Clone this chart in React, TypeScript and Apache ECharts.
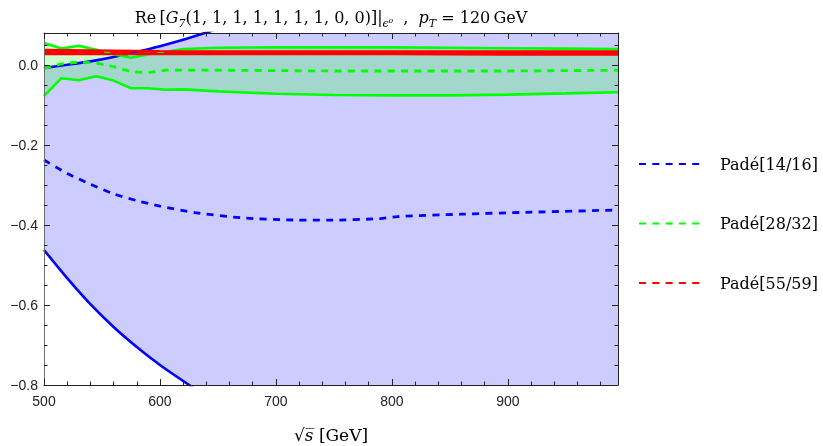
import React, { useEffect, useRef } from 'react';
import * as echarts from 'echarts';

// ---- data ----
const blueX = [500, 520, 540, 560, 580, 600, 620, 640, 660, 700, 800, 900, 995];
const blueLower = [-0.4625, -0.533, -0.598, -0.655, -0.705, -0.75, -0.79, -0.828, -0.865, -0.935, -1.1, -1.25, -1.38];
const blueUpper = [-0.0075, 0.0005, 0.009, 0.02, 0.033, 0.047, 0.063, 0.081, 0.1, 0.145, 0.27, 0.41, 0.56];

const blueMidX = [500, 520, 540, 560, 580, 600, 630, 670, 715, 745, 790, 805, 860, 920, 995];
const blueMid = [-0.2375, -0.271, -0.298, -0.322, -0.339, -0.353, -0.369, -0.382, -0.3875, -0.388, -0.384, -0.379, -0.373, -0.368, -0.3625];

const greenX = [500, 515, 530, 545, 560, 575, 590, 605, 620, 650, 700, 750, 800, 850, 900, 950, 995];
const greenUpper = [0.055, 0.041, 0.048, 0.038, 0.027, 0.018, 0.027, 0.033, 0.04, 0.043, 0.044, 0.044, 0.044, 0.043, 0.042, 0.041, 0.04];
const greenLower = [-0.078, -0.033, -0.038, -0.028, -0.039, -0.058, -0.058, -0.062, -0.061, -0.066, -0.072, -0.075, -0.076, -0.076, -0.074, -0.071, -0.068];
const greenMid = [-0.009, 0.003, 0.007, 0.005, -0.004, -0.017, -0.019, -0.013, -0.013, -0.013, -0.014, -0.015, -0.015, -0.015, -0.015, -0.014, -0.013];

const redX = [500, 600, 700, 800, 900, 995];
const redUpper = [0.038, 0.035, 0.034, 0.034, 0.034, 0.034];
const redLower = [0.027, 0.027, 0.027, 0.027, 0.026, 0.026];
const redMid = [0.0325, 0.031, 0.0305, 0.0305, 0.030, 0.030];

const legendNames = ['Padé[14/16]', 'Padé[28/32]', 'Padé[55/59]'];

const X_MIN = 500;
const X_MAX = 995;
const Y_MIN = -0.8;
const Y_MAX = 0.08;

const zip = (xs: number[], ys: number[]) => xs.map((x, i) => [x, ys[i]]);

const DASH = [7, 6.3];

// band between two curves, drawn as a polygon through the chart's own scales
function band(name: string, xs: number[], lower: number[], upper: number[], color: string) {
  return {
    type: 'custom',
    name,
    coordinateSystem: 'cartesian2d',
    silent: true,
    clip: true,
    data: xs.map((x, i) => [x, lower[i], upper[i]]),
    encode: { x: 0, y: [1, 2] },
    renderItem: (params: any, api: any) => {
      if (params.dataIndexInside !== 0) return null;
      const n = params.dataInsideLength;
      const top: number[][] = [];
      const bottom: number[][] = [];
      for (let k = 0; k < n; k++) {
        const x = api.value(0, k);
        top.push(api.coord([x, api.value(2, k)]));
        bottom.push(api.coord([x, api.value(1, k)]));
      }
      const cs = params.coordSys;
      return {
        type: 'polygon',
        shape: { points: top.concat(bottom.reverse()) },
        style: { fill: color, stroke: 'none' },
        clipPath: { type: 'rect', shape: { x: cs.x, y: cs.y, width: cs.width, height: cs.height } },
      };
    },
  };
}
function curve(name: string, xs: number[], ys: number[], color: string, width: number, dashed: boolean, smooth: number | boolean) {
  return {
    type: 'line', name, data: zip(xs, ys), symbol: 'none', smooth, silent: true,
    itemStyle: { color },
    lineStyle: { color, width, type: dashed ? DASH : 'solid', cap: 'butt' },
  };
}

const FRAME = '#222';

function xAxisDef(position: 'top' | 'bottom', interval: number, major: boolean, labels: boolean) {
  return {
    type: 'value', position, min: X_MIN, max: X_MAX, interval, z: 10,
    splitLine: { show: false },
    axisLine: { show: major, onZero: false, lineStyle: { color: FRAME, width: 1 } },
    axisTick: { show: true, inside: true, length: major ? 6 : 3.5, lineStyle: { color: FRAME, width: 1 } },
    axisLabel: {
      show: labels, margin: 9, fontSize: 14, fontFamily: 'Liberation Sans', color: '#222',
      showMaxLabel: false,
    },
  };
}
function yAxisDef(position: 'left' | 'right', interval: number, major: boolean, labels: boolean) {
  return {
    type: 'value', position, min: Y_MIN, max: Y_MAX, interval, z: 10,
    splitLine: { show: false },
    axisLine: { show: major, onZero: false, lineStyle: { color: position === 'left' ? '#6e6e6e' : FRAME, width: 1 } },
    axisTick: { show: true, inside: true, length: major ? 6 : 3.5, lineStyle: { color: FRAME, width: 1 } },
    axisLabel: {
      show: labels, margin: 6, fontSize: 14, fontFamily: 'Liberation Sans', color: '#222',
      showMaxLabel: false,
      formatter: (v: number) => v.toFixed(1).replace('-', '\u2212'),
    },
  };
}

export default function App() {
  const ref = useRef<HTMLDivElement>(null);
  useEffect(() => {
    if (!ref.current) return;
    const chart = echarts.init(ref.current, undefined, { renderer: 'svg' });
    const serif = 'DejaVu Serif';
    const option: any = {
      animation: false,
      grid: { left: 44, right: 205, top: 33, bottom: 61, containLabel: false },
      xAxis: [
        xAxisDef('bottom', 100, true, true),
        xAxisDef('bottom', 20, false, false),
        xAxisDef('top', 100, true, false),
        xAxisDef('top', 20, false, false),
      ],
      yAxis: [
        yAxisDef('left', 0.2, true, true),
        yAxisDef('left', 0.05, false, false),
        yAxisDef('right', 0.2, true, false),
        yAxisDef('right', 0.05, false, false),
      ],
      legend: {
        data: legendNames,
        orient: 'vertical',
        left: 638,
        top: 154,
        padding: 0,
        itemGap: 39.5,
        itemWidth: 62,
        itemHeight: 3,
        selectedMode: false,
        textStyle: { fontFamily: serif, fontSize: 16, color: '#000', lineHeight: 20, padding: [0, 0, 0, 14] },
      },
      graphic: [
        {
          type: 'text', x: 331, y: 17,
          style: {
            text: '{n|Re\u2009[}{i|G}{sub|7}{n|(1, 1, 1, 1, 1, 1, 1, 0, 0)]|}{sub|\u03f5\u2070}{n|  ,  }{i|p}{sub|T}{n| = 120\u2009GeV}',
            align: 'center', verticalAlign: 'middle',
            rich: {
              n: { fontFamily: serif, fontSize: 16, color: '#000', lineHeight: 24, verticalAlign: 'middle' },
              i: { fontFamily: serif, fontSize: 16, fontStyle: 'italic', color: '#000', lineHeight: 24, verticalAlign: 'middle' },
              sub: { fontFamily: serif, fontSize: 11, fontStyle: 'italic', color: '#000', lineHeight: 24, verticalAlign: 'bottom' },
            },
          },
        },
        {
          type: 'text', x: 331, y: 435,
          style: {
            text: '{n|\u221a}{i|s\u0305}{n| [GeV]}',
            align: 'center', verticalAlign: 'middle',
            rich: {
              n: { fontFamily: serif, fontSize: 17, color: '#000' },
              i: { fontFamily: serif, fontSize: 17, fontStyle: 'italic', color: '#000' },
            },
          },
        },
      ],
      series: [
        band('blueBand', blueX, blueLower, blueUpper, 'rgba(0,0,255,0.2)'),
        band('greenBand', greenX, greenLower, greenUpper, 'rgba(0,255,0,0.2)'),
        curve('blueLower', blueX, blueLower, '#0000ff', 2.6, false, 0.25),
        curve('blueUpper', blueX, blueUpper, '#0000ff', 2.6, false, 0.25),
        curve(legendNames[0], blueMidX, blueMid, '#0000ff', 2.8, true, 0.25),
        curve('greenLower', greenX, greenLower, '#00ff00', 2.6, false, false),
        curve('greenUpper', greenX, greenUpper, '#00ff00', 2.6, false, false),
        curve(legendNames[1], greenX, greenMid, '#00ff00', 2.8, true, false),
        band('redBand', redX, redLower, redUpper, 'rgba(255,0,0,0.95)'),
        curve('redLower', redX, redLower, '#ff0000', 2.2, false, false),
        curve('redUpper', redX, redUpper, '#ff0000', 2.2, false, false),
        curve(legendNames[2], redX, redMid, '#ff0000', 2.8, true, false),
      ],
    };
    chart.setOption(option);
    return () => chart.dispose();
  }, []);
  return <div ref={ref} style={{ position: 'fixed', left: 0, top: 0, width: 823, height: 446 }} />;
}
